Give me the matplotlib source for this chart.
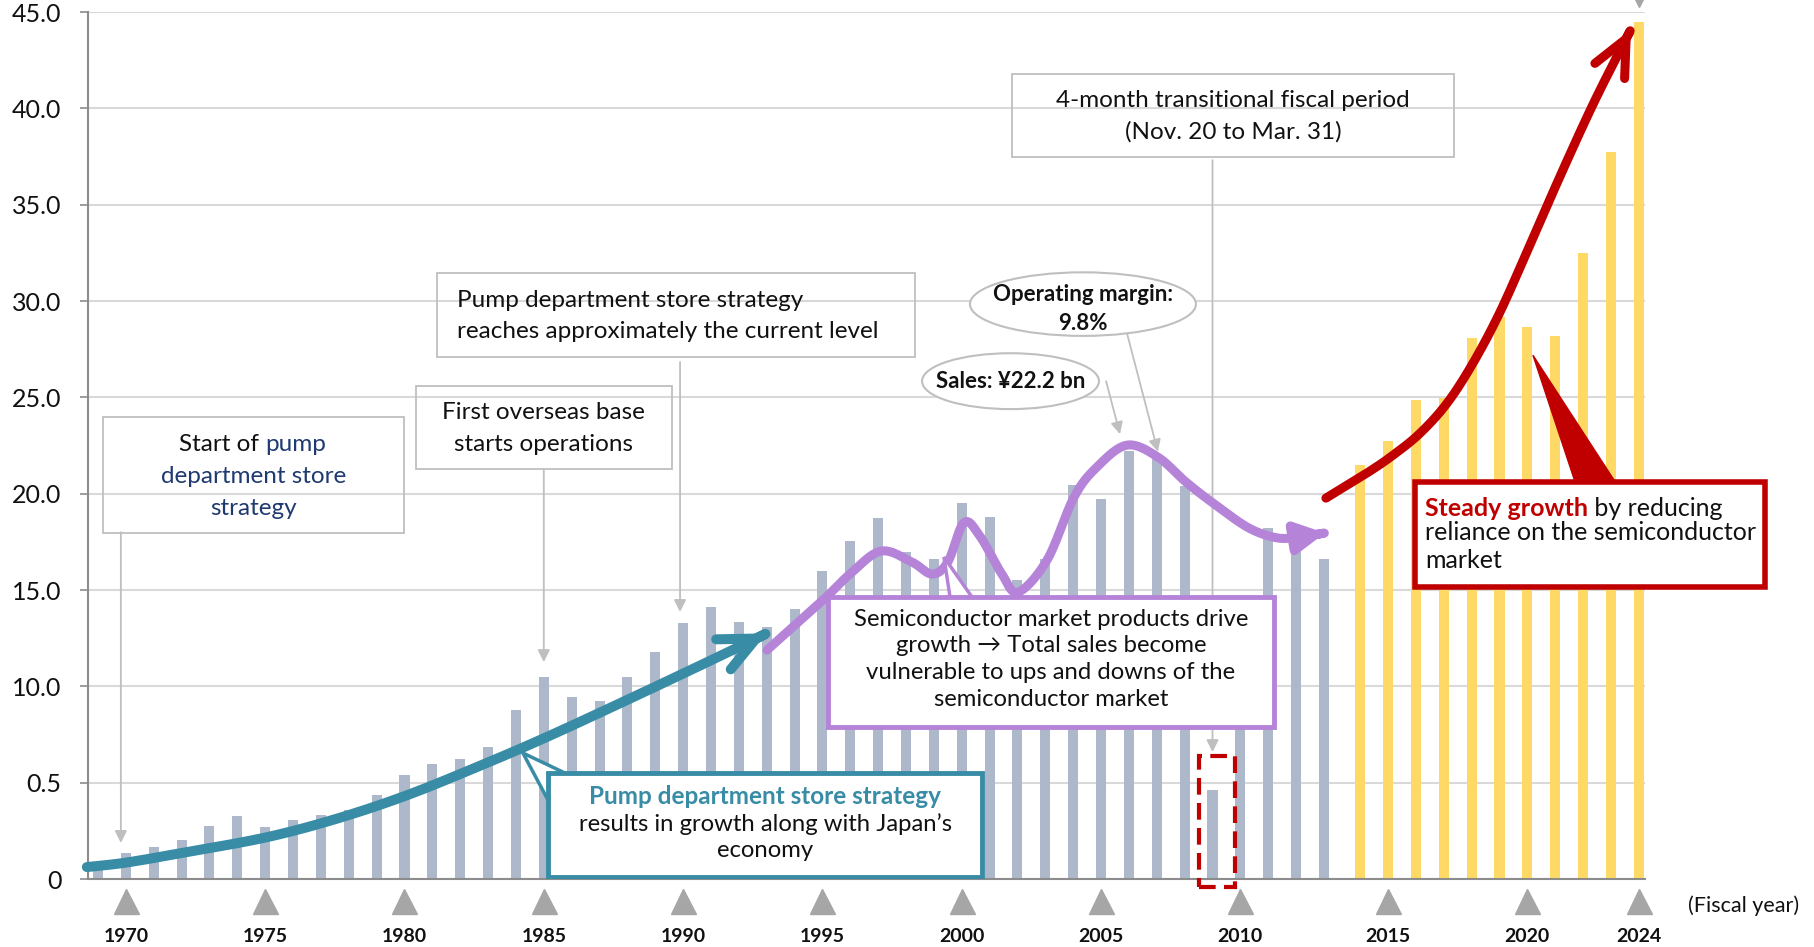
import numpy as np
import matplotlib
matplotlib.use('Agg')
import matplotlib.pyplot as plt
from matplotlib.patches import Rectangle, Ellipse, Polygon, FancyArrowPatch
from matplotlib.path import Path

plt.rcParams['font.family'] = ['Lato', 'DejaVu Sans']

# net sales by fiscal year (billion yen)
gray_years = list(range(1969, 2014))
gray_sales = [0.6, 1.35, 1.66, 2.0, 2.77, 3.25, 2.68, 3.06, 3.34, 3.6,
              4.34, 5.38, 5.99, 6.25, 6.83, 8.75, 10.47, 9.46, 9.24, 10.5,
              11.8, 13.3, 14.1, 13.35, 13.1, 14.0, 16.0, 17.55, 18.75, 16.95,
              16.6, 19.5, 18.8, 15.5, 16.6, 20.45, 19.7, 22.2, 21.8, 20.4,
              4.6, 13.9, 18.2, 17.6, 16.6]
yellow_years = list(range(2014, 2025))
yellow_sales = [21.5, 22.75, 24.85, 24.95, 28.07, 29.17, 28.65, 28.2, 32.47, 37.75, 44.5]

tick_years = [1970, 1975, 1980, 1985, 1990, 1995, 2000, 2005, 2010, 2015, 2020, 2024]
y_ticks = [0, 5, 10, 15, 20, 25, 30, 35, 40, 45]
y_tick_labels = ['0', '0.5', '10.0', '15.0', '20.0', '25.0', '30.0', '35.0', '40.0', '45.0']

GRAY = '#adb9ca'
YELLOW = '#ffd966'
TEAL = '#388ca6'
PURPLE = '#b584d9'
RED = '#c00000'
NAVY = '#1f3a70'
LINE = '#bfbfbf'
TRI = '#a6a6a6'
INK = '#111111'

shift = 0.3  # recent bars sit a little right of the year grid
FS = 17.5    # callout text size


def smooth(pts, n=24):
    """Catmull-Rom through the guide points, used for the hand drawn arrows"""
    p = np.array(pts, float)
    p = np.vstack([p[0], p, p[-1]])
    out = []
    t = np.linspace(0, 1, n, endpoint=False)[:, None]
    for i in range(1, len(p) - 2):
        p0, p1, p2, p3 = p[i - 1], p[i], p[i + 1], p[i + 2]
        seg = 0.5 * (2 * p1 + (-p0 + p2) * t + (2 * p0 - 5 * p1 + 4 * p2 - p3) * t ** 2
                     + (-p0 + 3 * p1 - 3 * p2 + p3) * t ** 3)
        out.append(seg)
    out.append(p[-2][None])
    return np.vstack(out)


def curve_arrow(pts, color, lw, style, z=4):
    arr = FancyArrowPatch(path=Path(smooth(pts)), arrowstyle=style, color=color,
                          lw=lw, mutation_scale=1, zorder=z, clip_on=False)
    arr.set_capstyle('round')
    arr.set_joinstyle('round')
    ax.add_patch(arr)


def gray_arrow(x0, y0, x1, y1):
    ax.annotate('', xy=(x1, y1), xytext=(x0, y0), zorder=3,
                arrowprops=dict(arrowstyle='-|>', color=LINE, lw=1.3,
                                mutation_scale=18, shrinkA=0, shrinkB=0))


fig = plt.figure(figsize=(18.14, 9.47), dpi=100)
ax = fig.add_axes([0.0485, 0.0718, 0.8583, 0.9155])

ax.bar(gray_years, gray_sales, width=0.36, color=GRAY, zorder=2)
ax.bar([y + shift for y in yellow_years], yellow_sales, width=0.36, color=YELLOW, zorder=2)

ax.set_xlim(1968.64, 2024.52)
ax.set_ylim(0, 45)
ax.set_axisbelow(True)
ax.yaxis.grid(True, color='#d9d9d9', lw=1.5)
for s in ['top', 'right']:
    ax.spines[s].set_visible(False)
for s in ['left', 'bottom']:
    ax.spines[s].set_color('#8c8c8c')
    ax.spines[s].set_linewidth(1.5)

ax.set_yticks(y_ticks, y_tick_labels, fontsize=18, color=INK)
ax.tick_params(axis='y', length=6, width=1.2, color='#8c8c8c', pad=13)

tick_pos = [y if y <= 2010 else y + shift for y in tick_years]
ax.set_xticks(tick_pos, [str(y) for y in tick_years], fontsize=14, fontweight='bold', color=INK)
ax.tick_params(axis='x', length=0, pad=35)
ax.plot(tick_pos, [-1.14] * len(tick_pos), ls='none', marker='^', ms=18,
        color=TRI, clip_on=False, zorder=3)
ax.plot([2024 + shift], [45.55], ls='none', marker='v', ms=8, color=TRI, clip_on=False)
ax.text(2028.06, -1.4, '(Fiscal year)', fontsize=15.5, ha='center', va='center',
        color=INK, clip_on=False)

# --- gray callouts -------------------------------------------------------
ax.add_patch(Rectangle((1969.17, 17.96), 10.81, 6.01, fill=False, ec=LINE, lw=1.3, zorder=3))
ax.text(1974.99, 22.57, 'Start of ', fontsize=FS, ha='right', va='center', color=INK)
ax.text(1974.99, 22.57, 'pump', fontsize=FS, ha='left', va='center', color=NAVY)
ax.text(1974.58, 20.89, 'department store', fontsize=FS, ha='center', va='center', color=NAVY)
ax.text(1974.58, 19.25, 'strategy', fontsize=FS, ha='center', va='center', color=NAVY)
gray_arrow(1969.82, 18.0, 1969.82, 1.87)

ax.add_patch(Rectangle((1980.43, 21.28), 9.17, 4.3, fill=False, ec=LINE, lw=1.3, zorder=3))
ax.text(1985.0, 24.2, 'First overseas base', fontsize=FS, ha='center', va='center', color=INK)
ax.text(1985.0, 22.57, 'starts operations', fontsize=FS, ha='center', va='center', color=INK)
gray_arrow(1985.0, 21.28, 1985.0, 11.26)

ax.add_patch(Rectangle((1981.16, 27.09), 17.16, 4.36, fill=False, ec=LINE, lw=1.3, zorder=3))
ax.text(1981.88, 30.03, 'Pump department store strategy', fontsize=FS, ha='left',
        va='center', color=INK)
ax.text(1981.88, 28.42, 'reaches approximately the current level', fontsize=FS, ha='left',
        va='center', color=INK)
gray_arrow(1989.89, 26.83, 1989.89, 13.86)

ax.add_patch(Rectangle((2001.79, 37.47), 15.88, 4.33, fill=False, ec=LINE, lw=1.3, zorder=3))
ax.text(2009.73, 40.43, '4-month transitional fiscal period', fontsize=FS, ha='center',
        va='center', color=INK)
ax.text(2009.73, 38.77, '(Nov. 20 to Mar. 31)', fontsize=FS, ha='center', va='center', color=INK)
gray_arrow(2009.0, 37.31, 2009.0, 6.59)

ax.add_patch(Ellipse((2004.35, 29.84), 8.11, 3.3, fc='white', ec=LINE, lw=1.5, zorder=5))
ax.text(2004.35, 30.32, 'Operating margin:', fontsize=16, fontweight='bold', ha='center',
        va='center', zorder=6, color=INK)
ax.text(2004.35, 28.83, '9.8%', fontsize=16, fontweight='bold', ha='center', va='center',
        zorder=6, color=INK)
gray_arrow(2005.93, 28.33, 2007.04, 22.18)

ax.add_patch(Ellipse((2001.75, 25.84), 6.35, 2.9, fc='white', ec=LINE, lw=1.5, zorder=5))
ax.text(2001.75, 25.84, 'Sales: ¥22.2 bn', fontsize=16, fontweight='bold', ha='center',
        va='center', zorder=6, color=INK)
gray_arrow(2005.18, 25.84, 2005.68, 23.09)

# transitional period highlight
ax.add_patch(Rectangle((2008.5, -0.44), 1.29, 6.85, fill=False, ec=RED, lw=3,
                       ls=(0, (4, 2)), zorder=4, clip_on=False))

# --- growth arrows -------------------------------------------------------
teal_pts = [(1968.6, 0.62), (1970.0, 0.85), (1972.0, 1.35), (1975.0, 2.15), (1977.5, 3.1),
            (1980.0, 4.3), (1982.5, 5.75), (1985.0, 7.3), (1988.0, 9.3), (1991.0, 11.35),
            (1993.0, 12.75)]
curve_arrow(teal_pts, TEAL, 7.2, '->,head_length=26,head_width=12')

purple_pts = [(1993.01, 11.88), (1995.02, 14.48), (1995.99, 15.83), (1997.1, 17.02),
              (1998.21, 16.45), (1998.93, 15.83), (1999.5, 16.45), (2000.08, 18.5),
              (2000.65, 17.8), (2001.44, 15.83), (2002.02, 14.89), (2003.06, 16.55),
              (2004.03, 19.82), (2004.85, 21.38), (2005.93, 22.52), (2007.04, 21.9),
              (2008.05, 20.6), (2009.02, 19.51), (2010.24, 18.27), (2011.17, 17.75),
              (2011.89, 17.7), (2013.04, 17.96)]
curve_arrow(purple_pts, PURPLE, 6.5, '-|>,head_length=17,head_width=9')

red_pts = [(2013.07, 19.77), (2014.54, 21.07), (2015.48, 22.0), (2016.45, 23.14),
           (2017.42, 24.7), (2018.35, 26.78), (2019.32, 29.43), (2020.39, 32.9),
           (2021.54, 36.69), (2022.73, 40.43), (2024.02, 44.11)]
curve_arrow(red_pts, RED, 6.5, '->,head_length=26,head_width=12')

# --- coloured callouts ---------------------------------------------------
ax.add_patch(Polygon([(1985.15, 4.1), (1984.25, 6.54), (1985.76, 5.5)], closed=True,
                     fc='white', ec=TEAL, lw=2.5, zorder=4.5))
ax.add_patch(Rectangle((1985.15, 0.1), 15.57, 5.4, fc='white', ec=TEAL, lw=3.5, zorder=5))
ax.text(1992.94, 4.26, 'Pump department store strategy', fontsize=17.5, fontweight='bold',
        color=TEAL, ha='center', va='center', zorder=6)
ax.text(1992.94, 2.85, 'results in growth along with Japan’s', fontsize=17.2,
        ha='center', va='center', zorder=6, color=INK)
ax.text(1992.94, 1.5, 'economy', fontsize=17.2, ha='center', va='center', zorder=6, color=INK)

ax.add_patch(Polygon([(1999.58, 14.63), (1999.36, 16.71), (2000.37, 14.63)], closed=True,
                     fc='white', ec=PURPLE, lw=2.5, zorder=4.5))
ax.add_patch(Rectangle((1995.2, 7.91), 16.0, 6.72, fc='white', ec=PURPLE, lw=3.5, zorder=5))
purple_lines = ['Semiconductor market products drive', 'growth → Total sales become',
                'vulnerable to ups and downs of the', 'semiconductor market']
for line, yy in zip(purple_lines, [13.49, 12.11, 10.74, 9.34]):
    ax.text(2003.2, yy, line, fontsize=17.2, ha='center', va='center', zorder=6, color=INK)

ax.add_patch(Polygon([(2022.01, 20.62), (2020.5, 27.19), (2023.45, 20.62)], closed=True,
                     fc=RED, ec=RED, lw=1, zorder=5, clip_on=False))
ax.add_patch(Rectangle((2016.27, 15.17), 12.56, 5.45, fc='white', ec=RED, lw=4,
                       zorder=5, clip_on=False))
t1 = ax.text(2016.63, 19.25, 'Steady growth', fontsize=18, fontweight='bold', color=RED,
             ha='left', va='center', zorder=6, clip_on=False)
ax.annotate(' by reducing', xy=(1, 0.5), xycoords=t1, fontsize=18, ha='left', va='center',
            zorder=6, annotation_clip=False, color=INK)
ax.text(2016.63, 17.96, 'reliance on the semiconductor', fontsize=18, ha='left', va='center',
        zorder=6, clip_on=False, color=INK)
ax.text(2016.63, 16.55, 'market', fontsize=18, ha='left', va='center', zorder=6,
        clip_on=False, color=INK)

fig.savefig('out.png', dpi=100)
